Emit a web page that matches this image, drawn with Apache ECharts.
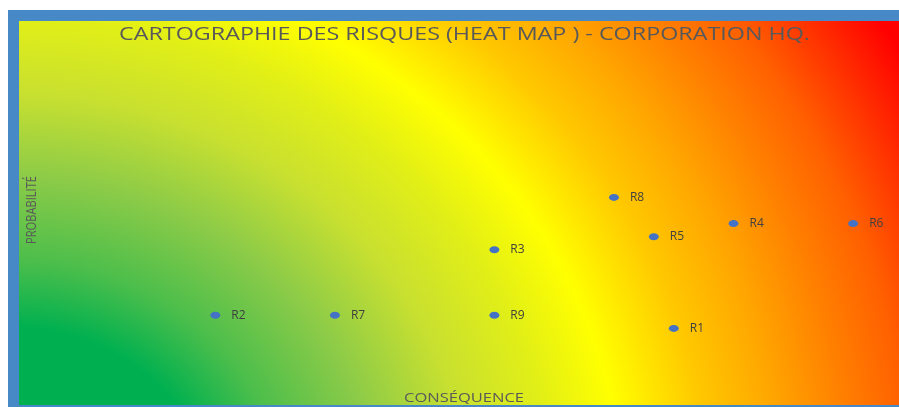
<!DOCTYPE html>
<html>
<head>
<meta charset="utf-8">
<script src="https://cdn.jsdelivr.net/npm/echarts@6/dist/echarts.min.js"></script>
<style>
  html, body { margin: 0; padding: 0; background: #fff; }
  #chart { width: 899px; height: 407px; }
</style>
</head>
<body>
<div id="chart"></div>
<script>
// risques : conséquence (x) / probabilité (y)
const riskNames = ['R1', 'R2', 'R3', 'R4', 'R5', 'R6', 'R7', 'R8', 'R9'];
const consequence = [33, 10, 24, 36, 32, 42, 16, 30, 24];
const probability = [6, 7, 12, 14, 13, 14, 7, 16, 7];

const titleText = 'CARTOGRAPHIE DES RISQUES (HEAT MAP ) - CORPORATION HQ.';
const xName = 'CONSÉQUENCE';
const yName = 'PROBABILITÉ';

const chart = echarts.init(document.getElementById('chart'));

// largeur d'un texte pour l'étirer comme dans l'original
function textWidth (text, size, family) {
  const ctx = document.createElement('canvas').getContext('2d');
  ctx.font = size + 'px "' + family + '"';
  return ctx.measureText(text).width;
}

const FONT = 'Open Sans';
const titleScale = 691 / textWidth(titleText, 18, FONT);
const xNameScale = 120 / textWidth(xName, 13, FONT);
const yNameScale = 68 / textWidth(yName, 10, FONT);

const points = consequence.map((c, i) => [c, probability[i], riskNames[i]]);

// dégradé vert -> jaune -> rouge, elliptique depuis le coin bas gauche
const area = { x: 18, y: 21, w: 881, h: 384 };
const center = [10, 510];   // centre du dégradé (px)
const rx = 614, ry = 555;   // ellipse du jaune
const dMax = 1.67;
const stops = [
  [0, '#00B050'], [0.33, '#00B050'], [0.45, '#4CBE4B'], [0.6, '#8CCB48'],
  [0.75, '#C8E030'], [0.88, '#E0EE18'], [1.0, '#FFFF00'], [1.14, '#FFC800'],
  [1.25, '#FFA800'], [1.37, '#FF8000'], [1.47, '#FF6000'], [1.67, '#FF0000']
];
const bgScaleY = ry / rx;
const bgH = area.h / bgScaleY;

chart.setOption({
  animation: false,
  grid: { left: 16, right: 6, top: 14, bottom: 0 },
  xAxis: { type: 'value', min: 0, max: 44, show: false },
  yAxis: { type: 'value', min: 0, max: 30, show: false },
  graphic: [
    {
      type: 'rect',
      x: area.x, y: area.y,
      scaleY: bgScaleY,
      z: -10,
      silent: true,
      shape: { x: 0, y: 0, width: area.w, height: bgH },
      style: {
        fill: {
          type: 'radial',
          x: (center[0] - area.x) / area.w,
          y: ((center[1] - area.y) / bgScaleY) / bgH,
          r: (rx * dMax) / Math.min(area.w, bgH),
          colorStops: stops.map(s => ({ offset: s[0] / dMax, color: s[1] }))
        }
      }
    },
    // cadre bleu
    { type: 'rect', z: -5, silent: true, shape: { x: 8, y: 10, width: 891, height: 11 }, style: { fill: '#4788C7' } },
    { type: 'rect', z: -5, silent: true, shape: { x: 8, y: 10, width: 11, height: 397 }, style: { fill: '#4788C7' } },
    { type: 'rect', z: -5, silent: true, shape: { x: 8, y: 405, width: 891, height: 2 }, style: { fill: '#4788C7' } },
    {
      type: 'text',
      x: 119, y: 35,
      scaleX: titleScale,
      z: 10,
      style: { text: titleText, fontSize: 18, fontFamily: FONT, fill: '#595959', align: 'left', verticalAlign: 'middle' }
    },
    {
      type: 'text',
      x: 464, y: 398,
      scaleX: xNameScale,
      z: 10,
      style: { text: xName, fontSize: 13, fontFamily: FONT, fill: '#595959', align: 'center', verticalAlign: 'middle' }
    },
    {
      type: 'text',
      x: 32, y: 210,
      rotation: Math.PI / 2,
      scaleX: yNameScale,
      scaleY: 1.4,
      z: 10,
      style: { text: yName, fontSize: 10, fontFamily: FONT, fill: '#595959', align: 'center', verticalAlign: 'middle' }
    }
  ],
  series: [
    {
      type: 'scatter',
      data: points,
      symbol: 'circle',
      symbolSize: [10, 7],
      itemStyle: { color: '#4472C4', opacity: 1 },
      label: {
        show: true,
        position: 'right',
        distance: 11,
        formatter: p => p.data[2],
        fontFamily: FONT,
        fontSize: 12,
        color: '#404040'
      }
    }
  ]
});
</script>
</body>
</html>
